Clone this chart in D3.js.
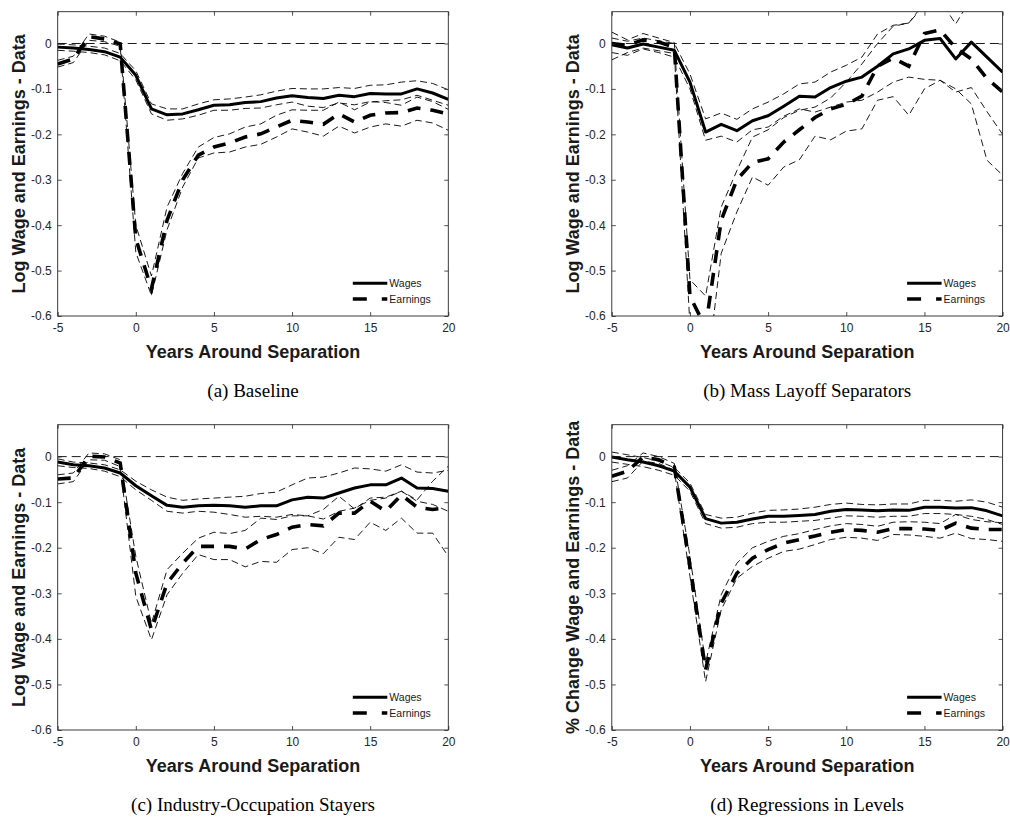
<!DOCTYPE html>
<html>
<head>
<meta charset="utf-8">
<script src="https://cdn.jsdelivr.net/npm/d3@7"></script>
<style>
  html, body { margin: 0; padding: 0; background: #ffffff; }
  svg { display: block; }
</style>
</head>
<body>
<svg id="chart" width="1010" height="819"></svg>
<script>
// ---- Data: event-time profiles of log wages and earnings around separation ----
const years = [-5,-4,-3,-2,-1,0,1,2,3,4,5,6,7,8,9,10,11,12,13,14,15,16,17,18,19,20];
const xTickValues = [-5, 0, 5, 10, 15, 20];
const xTickLabels = ["-5", "0", "5", "10", "15", "20"];
const yTickValues = [-0.6, -0.5, -0.4, -0.3, -0.2, -0.1, 0];
const yTickLabels = ["-0.6", "-0.5", "-0.4", "-0.3", "-0.2", "-0.1", "0"];
const seriesNames = ["Wages", "Earnings"];

// (a) Baseline
const wagesA   = [-0.008,-0.010,-0.013,-0.018,-0.030,-0.070,-0.144,-0.157,-0.155,-0.146,-0.136,-0.135,-0.130,-0.128,-0.120,-0.115,-0.119,-0.121,-0.114,-0.117,-0.110,-0.111,-0.111,-0.100,-0.109,-0.123];
const wagesAHi = [-0.001,-0.003,-0.006,-0.010,-0.022,-0.060,-0.133,-0.144,-0.144,-0.133,-0.124,-0.122,-0.118,-0.113,-0.105,-0.099,-0.100,-0.100,-0.097,-0.099,-0.092,-0.091,-0.085,-0.082,-0.088,-0.102];
const wagesALo = [-0.015,-0.017,-0.020,-0.025,-0.038,-0.080,-0.155,-0.169,-0.166,-0.158,-0.147,-0.147,-0.143,-0.142,-0.135,-0.129,-0.138,-0.141,-0.131,-0.135,-0.128,-0.130,-0.136,-0.118,-0.128,-0.145];
const earnA    = [-0.045,-0.034,0.015,0.010,-0.001,-0.430,-0.540,-0.389,-0.300,-0.246,-0.228,-0.219,-0.206,-0.199,-0.184,-0.169,-0.173,-0.178,-0.155,-0.173,-0.158,-0.153,-0.152,-0.142,-0.147,-0.155];
const earnAHi  = [-0.037,-0.028,0.021,0.016,0.003,-0.400,-0.512,-0.360,-0.286,-0.228,-0.207,-0.199,-0.184,-0.177,-0.158,-0.146,-0.147,-0.147,-0.129,-0.146,-0.129,-0.126,-0.124,-0.114,-0.125,-0.136];
const earnALo  = [-0.052,-0.042,0.007,0.004,-0.006,-0.460,-0.555,-0.410,-0.316,-0.252,-0.241,-0.239,-0.228,-0.222,-0.206,-0.188,-0.195,-0.204,-0.182,-0.197,-0.184,-0.177,-0.182,-0.169,-0.175,-0.191];

// (b) Mass layoff separators
const wagesB   = [-0.003,-0.010,-0.001,-0.008,-0.015,-0.085,-0.195,-0.178,-0.192,-0.170,-0.159,-0.138,-0.116,-0.118,-0.097,-0.083,-0.074,-0.050,-0.023,-0.012,0.007,0.011,-0.034,0.003,-0.030,-0.063];
const wagesBHi = [0.012,0.005,0.012,0.006,0.000,-0.067,-0.166,-0.153,-0.167,-0.144,-0.129,-0.111,-0.089,-0.085,-0.063,-0.048,-0.030,0.021,0.040,0.045,0.085,0.095,0.043,0.100,0.120,0.160];
const wagesBLo = [-0.020,-0.026,-0.012,-0.020,-0.030,-0.100,-0.213,-0.204,-0.217,-0.190,-0.184,-0.160,-0.144,-0.151,-0.140,-0.129,-0.125,-0.107,-0.085,-0.074,-0.079,-0.081,-0.100,-0.133,-0.257,-0.290];
const earnB    = [0.000,-0.004,0.008,0.003,-0.008,-0.557,-0.625,-0.389,-0.300,-0.262,-0.254,-0.217,-0.190,-0.163,-0.144,-0.134,-0.116,-0.050,-0.032,-0.050,0.022,0.030,-0.010,-0.034,-0.077,-0.107];
const earnBHi  = [0.025,0.008,0.022,0.012,0.002,-0.520,-0.556,-0.360,-0.280,-0.206,-0.190,-0.163,-0.147,-0.140,-0.120,-0.085,-0.045,0.000,0.038,0.045,0.090,0.110,0.080,0.110,0.130,0.150];
const earnBLo  = [-0.036,-0.020,-0.010,-0.016,-0.022,-0.620,-0.750,-0.462,-0.371,-0.294,-0.312,-0.272,-0.256,-0.204,-0.212,-0.193,-0.188,-0.125,-0.117,-0.158,-0.100,-0.081,-0.107,-0.097,-0.150,-0.200];

// (c) Industry-occupation stayers
const wagesC   = [-0.012,-0.018,-0.020,-0.025,-0.036,-0.064,-0.086,-0.107,-0.111,-0.108,-0.107,-0.108,-0.111,-0.108,-0.108,-0.095,-0.089,-0.091,-0.080,-0.069,-0.062,-0.062,-0.047,-0.069,-0.070,-0.076];
const wagesCHi = [-0.005,-0.012,-0.014,-0.018,-0.029,-0.054,-0.073,-0.089,-0.096,-0.093,-0.091,-0.089,-0.087,-0.081,-0.078,-0.062,-0.047,-0.045,-0.036,-0.025,-0.027,-0.032,-0.018,-0.034,-0.036,-0.030];
const wagesCLo = [-0.020,-0.024,-0.026,-0.032,-0.044,-0.073,-0.096,-0.120,-0.124,-0.120,-0.122,-0.127,-0.133,-0.131,-0.133,-0.127,-0.130,-0.137,-0.120,-0.113,-0.096,-0.091,-0.076,-0.098,-0.105,-0.120];
const earnC    = [-0.049,-0.047,0.001,-0.001,-0.014,-0.256,-0.380,-0.278,-0.234,-0.197,-0.197,-0.197,-0.203,-0.182,-0.171,-0.155,-0.149,-0.152,-0.124,-0.124,-0.098,-0.120,-0.084,-0.111,-0.116,-0.112];
const earnCHi  = [-0.040,-0.036,0.008,0.006,-0.007,-0.219,-0.366,-0.248,-0.212,-0.179,-0.166,-0.169,-0.162,-0.135,-0.138,-0.130,-0.130,-0.116,-0.087,-0.115,-0.091,-0.089,-0.076,-0.095,-0.054,-0.021];
const earnCLo  = [-0.060,-0.055,-0.007,-0.008,-0.022,-0.307,-0.402,-0.303,-0.256,-0.215,-0.226,-0.226,-0.242,-0.230,-0.232,-0.204,-0.200,-0.213,-0.177,-0.182,-0.144,-0.162,-0.135,-0.168,-0.168,-0.219];

// (d) Regressions in levels
const wagesD   = [-0.001,-0.007,-0.012,-0.020,-0.032,-0.067,-0.136,-0.146,-0.144,-0.137,-0.131,-0.131,-0.129,-0.127,-0.120,-0.116,-0.117,-0.119,-0.117,-0.118,-0.111,-0.111,-0.113,-0.112,-0.119,-0.130];
const wagesDHi = [0.010,0.004,-0.002,-0.010,-0.024,-0.058,-0.127,-0.135,-0.133,-0.124,-0.118,-0.117,-0.115,-0.111,-0.105,-0.102,-0.105,-0.106,-0.104,-0.104,-0.096,-0.096,-0.098,-0.095,-0.100,-0.111];
const wagesDLo = [-0.012,-0.017,-0.022,-0.030,-0.041,-0.076,-0.147,-0.157,-0.155,-0.147,-0.144,-0.144,-0.142,-0.140,-0.135,-0.130,-0.131,-0.133,-0.131,-0.131,-0.125,-0.125,-0.127,-0.131,-0.138,-0.149];
const earnD    = [-0.043,-0.032,-0.001,-0.007,-0.023,-0.241,-0.468,-0.322,-0.256,-0.223,-0.204,-0.190,-0.182,-0.174,-0.166,-0.160,-0.162,-0.166,-0.158,-0.158,-0.159,-0.162,-0.146,-0.157,-0.160,-0.160];
const earnDHi  = [-0.030,-0.020,0.008,0.000,-0.015,-0.219,-0.453,-0.303,-0.234,-0.200,-0.186,-0.175,-0.169,-0.160,-0.152,-0.147,-0.149,-0.153,-0.144,-0.143,-0.144,-0.147,-0.127,-0.138,-0.143,-0.145];
const earnDLo  = [-0.055,-0.047,-0.010,-0.015,-0.030,-0.263,-0.494,-0.336,-0.267,-0.241,-0.223,-0.208,-0.203,-0.193,-0.182,-0.177,-0.179,-0.184,-0.171,-0.172,-0.175,-0.179,-0.168,-0.180,-0.182,-0.186];

const yTitleLog = "Log Wage and Earnings - Data";
const yTitlePct = "% Change Wage and Earnings - Data";
const xTitle = "Years Around Separation";

// ---- Layout of the four panels ----
const panels = [
  { id: "a", box: [57.7, 11.7, 448.3, 316], ytitle: yTitleLog, caption: "(a) Baseline",
    wages: wagesA, wagesHi: wagesAHi, wagesLo: wagesALo, earn: earnA, earnHi: earnAHi, earnLo: earnALo },
  { id: "b", box: [611.8, 11.7, 1002.6, 316], ytitle: yTitleLog, caption: "(b) Mass Layoff Separators",
    wages: wagesB, wagesHi: wagesBHi, wagesLo: wagesBLo, earn: earnB, earnHi: earnBHi, earnLo: earnBLo },
  { id: "c", box: [57.7, 424.7, 448.3, 730], ytitle: yTitleLog, caption: "(c) Industry-Occupation Stayers",
    wages: wagesC, wagesHi: wagesCHi, wagesLo: wagesCLo, earn: earnC, earnHi: earnCHi, earnLo: earnCLo },
  { id: "d", box: [611.8, 424.7, 1002.6, 730], ytitle: yTitlePct, caption: "(d) Regressions in Levels",
    wages: wagesD, wagesHi: wagesDHi, wagesLo: wagesDLo, earn: earnD, earnHi: earnDHi, earnLo: earnDLo }
];

const svg = d3.select("#chart");
const axisColor = "#262626";
const sans = "'Liberation Sans', Arial, Helvetica, sans-serif";
const serif = "'Liberation Serif', 'Times New Roman', serif";

function drawPanel(p) {
  const [L, T, R, B] = p.box;
  const x = d3.scaleLinear().domain([-5, 20]).range([L, R]);
  const y = d3.scaleLinear().domain([-0.6, 0.07]).range([B, T]);
  const g = svg.append("g").attr("class", "panel-" + p.id);

  const clipId = "clip-" + p.id;
  g.append("clipPath").attr("id", clipId)
    .append("rect").attr("x", L).attr("y", T).attr("width", R - L).attr("height", B - T);

  const plot = g.append("g").attr("clip-path", `url(#${clipId})`);
  const line = d3.line().x((d, i) => x(years[i])).y(d => y(d));

  // zero reference line across the full year range
  plot.append("path")
    .datum([0, 0])
    .attr("d", d3.line().x((d, i) => x(i === 0 ? years[0] : years[years.length - 1])).y(d => y(d)))
    .attr("fill", "none").attr("stroke", "#000").attr("stroke-width", 0.9)
    .attr("stroke-dasharray", "9,5");

  // confidence bands (thin dashed)
  [p.wagesHi, p.wagesLo, p.earnHi, p.earnLo].forEach(s => {
    plot.append("path").datum(s).attr("d", line)
      .attr("fill", "none").attr("stroke", "#000").attr("stroke-width", 0.9)
      .attr("stroke-dasharray", "7,4");
  });

  // point estimates
  plot.append("path").datum(p.wages).attr("d", line)
    .attr("fill", "none").attr("stroke", "#000").attr("stroke-width", 3)
    .attr("stroke-linejoin", "round");
  plot.append("path").datum(p.earn).attr("d", line)
    .attr("fill", "none").attr("stroke", "#000").attr("stroke-width", 3.6)
    .attr("stroke-dasharray", "13,10");

  // axes with inward ticks on all four sides
  const tick = 4;
  const ax = g.append("g").attr("font-family", sans);
  const bottom = ax.append("g").attr("transform", `translate(0,${B})`)
    .call(d3.axisBottom(x).tickValues(xTickValues).tickFormat((d, i) => xTickLabels[i])
      .tickSizeInner(-tick).tickSizeOuter(0).tickPadding(7));
  const left = ax.append("g").attr("transform", `translate(${L},0)`)
    .call(d3.axisLeft(y).tickValues(yTickValues).tickFormat((d, i) => yTickLabels[i])
      .tickSizeInner(-tick).tickSizeOuter(0).tickPadding(6));
  const top = ax.append("g").attr("transform", `translate(0,${T})`)
    .call(d3.axisTop(x).tickValues(xTickValues).tickFormat("").tickSizeInner(-tick).tickSizeOuter(0));
  const right = ax.append("g").attr("transform", `translate(${R},0)`)
    .call(d3.axisRight(y).tickValues(yTickValues).tickFormat("").tickSizeInner(-tick).tickSizeOuter(0));
  [bottom, left, top, right].forEach(a => {
    a.select(".domain").remove();
    a.selectAll(".tick line").attr("stroke", axisColor).attr("stroke-width", 0.8);
    a.selectAll(".tick text").attr("fill", axisColor).attr("font-size", 12);
  });

  // box
  g.append("rect").attr("x", L).attr("y", T).attr("width", R - L).attr("height", B - T)
    .attr("fill", "none").attr("stroke", axisColor).attr("stroke-width", 0.9);

  // axis titles
  g.append("text")
    .attr("transform", `translate(${L - 33},${(T + B) / 2}) rotate(-90)`)
    .attr("text-anchor", "middle").attr("font-family", sans).attr("font-weight", "bold")
    .attr("font-size", 18).attr("fill", "#1a1a1a").text(p.ytitle);
  g.append("text")
    .attr("x", (L + R) / 2).attr("y", B + 42)
    .attr("text-anchor", "middle").attr("font-family", sans).attr("font-weight", "bold")
    .attr("font-size", 18).attr("fill", "#1a1a1a").text(xTitle);

  // legend
  const lg = g.append("g").attr("font-family", sans).attr("font-size", 10.5).attr("fill", "#1a1a1a");
  const lx0 = R - 95.5, lx1 = R - 61;
  const rows = [B - 32.7, B - 17];
  lg.append("line").attr("x1", lx0).attr("x2", lx1).attr("y1", rows[0]).attr("y2", rows[0])
    .attr("stroke", "#000").attr("stroke-width", 3);
  lg.append("line").attr("x1", lx0).attr("x2", lx1).attr("y1", rows[1]).attr("y2", rows[1])
    .attr("stroke", "#000").attr("stroke-width", 3.6).attr("stroke-dasharray", "14,15");
  seriesNames.forEach((name, i) => {
    lg.append("text").attr("x", lx1 + 2).attr("y", rows[i]).attr("dy", "0.36em").text(name);
  });

  // caption
  g.append("text")
    .attr("x", (L + R) / 2).attr("y", B + 81)
    .attr("text-anchor", "middle").attr("font-family", serif)
    .attr("font-size", 19).attr("fill", "#000").text(p.caption);
}

panels.forEach(drawPanel);
</script>
</body>
</html>
